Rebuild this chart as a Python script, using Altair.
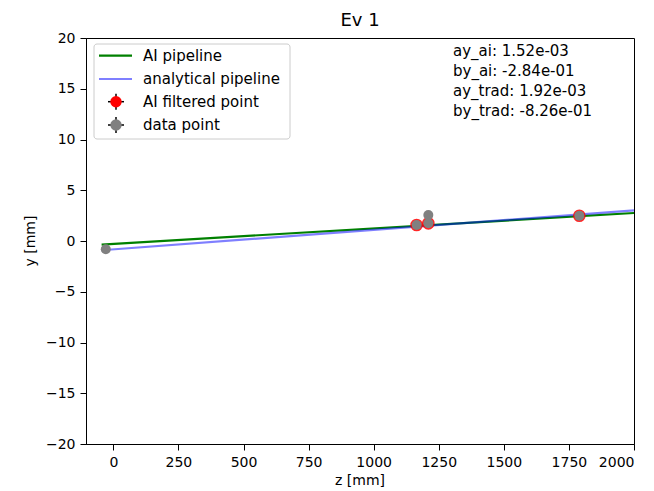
import altair as alt
import pandas as pd

# ---- data ----
line_z = [-45, 2000]
ai_line_y = [-0.35, 2.76]
trad_line_y = [-0.91, 3.01]

ai_pts_z = [1165, 1210, 1790]
ai_pts_y = [1.58, 1.74, 2.49]

data_pts_z = [-29, 1165, 1210, 1210, 1790]
data_pts_y = [-0.82, 1.58, 1.74, 2.56, 2.49]

legend_labels = ["AI pipeline", "analytical pipeline", "AI filtered point", "data point"]
annotations = ["ay_ai: 1.52e-03", "by_ai: -2.84e-01", "ay_trad: 1.92e-03", "by_trad: -8.26e-01"]
title_text = "Ev 1"
x_title = "z [mm]"
y_title = "y [mm]"
x_ticks = [0, 250, 500, 750, 1000, 1250, 1500, 1750, 2000]
y_ticks = [-20, -15, -10, -5, 0, 5, 10, 15, 20]
x_domain = [-105, 2000]
y_domain = [-20, 20]

FONT = "DejaVu Sans"
W, H = 548, 406

lines_df = pd.DataFrame({
    "z": line_z + line_z,
    "y": ai_line_y + trad_line_y,
    "series": [legend_labels[0]] * 2 + [legend_labels[1]] * 2,
})
ai_df = pd.DataFrame({"z": ai_pts_z, "y": ai_pts_y})
data_df = pd.DataFrame({"z": data_pts_z, "y": data_pts_y})
one = pd.DataFrame({"k": [0]})

x_enc = alt.X("z:Q", scale=alt.Scale(domain=x_domain, nice=False, zero=False),
              axis=alt.Axis(values=x_ticks, title=None, grid=False, format="d"))
y_enc = alt.Y("y:Q", scale=alt.Scale(domain=y_domain, nice=False, zero=False),
              axis=alt.Axis(values=y_ticks, title=None, grid=False, format="d"))

green_line = alt.Chart(lines_df).transform_filter(
    alt.datum.series == legend_labels[0]
).mark_line(color="#008000", strokeWidth=2.2, clip=True).encode(x=x_enc, y=y_enc)

blue_line = alt.Chart(lines_df).transform_filter(
    alt.datum.series == legend_labels[1]
).mark_line(color="#0000ff", opacity=0.5, strokeWidth=2.2, clip=True).encode(x=x_enc, y=y_enc)

red_pts = alt.Chart(ai_df).mark_point(
    filled=True, shape="circle", size=160, color="#ff0000", opacity=0.85
).encode(x=x_enc, y=y_enc)

gray_pts = alt.Chart(data_df).mark_point(
    filled=True, shape="circle", size=100, color="#808080", opacity=1
).encode(x=x_enc, y=y_enc)

layers = [green_line, blue_line, red_pts, gray_pts]

# ---- title and axis titles ----
layers.append(alt.Chart(one).mark_text(
    text=title_text, font=FONT, fontSize=18, align="center", baseline="alphabetic", color="black"
).encode(x=alt.value(W / 2), y=alt.value(-12)))
layers.append(alt.Chart(one).mark_text(
    text=x_title, font=FONT, fontSize=14, align="center", baseline="alphabetic", color="black"
).encode(x=alt.value(W / 2), y=alt.value(447)))
layers.append(alt.Chart(one).mark_text(
    text=y_title, font=FONT, fontSize=14, align="center", baseline="middle", angle=270, color="black"
).encode(x=alt.value(-55), y=alt.value(H / 2)))

# ---- annotation text ----
for i, t in enumerate(annotations):
    layers.append(alt.Chart(one).mark_text(
        text=t, font=FONT, fontSize=15, align="left", baseline="alphabetic", color="black"
    ).encode(x=alt.value(367), y=alt.value(17.7 + 20 * i)))

# ---- legend ----
layers.append(alt.Chart(one).mark_rect(
    fill="white", fillOpacity=0.8, stroke="#cccccc", strokeWidth=1, cornerRadius=3
).encode(x=alt.value(8), x2=alt.value(204), y=alt.value(6), y2=alt.value(101)))

entry_y = [17.7, 41, 63.7, 87]
layers.append(alt.Chart(one).mark_rule(color="#008000", strokeWidth=2.2).encode(
    x=alt.value(13), x2=alt.value(46), y=alt.value(entry_y[0])))
layers.append(alt.Chart(one).mark_rule(color="#0000ff", opacity=0.5, strokeWidth=2.2).encode(
    x=alt.value(13), x2=alt.value(46), y=alt.value(entry_y[1])))
for j, col in [(2, "#ff0000"), (3, "#808080")]:
    ey = entry_y[j]
    layers.append(alt.Chart(one).mark_rule(color="black", strokeWidth=1.5).encode(
        x=alt.value(22), x2=alt.value(38), y=alt.value(ey)))
    layers.append(alt.Chart(one).mark_rule(color="black", strokeWidth=1.5).encode(
        x=alt.value(30), y=alt.value(ey - 8), y2=alt.value(ey + 8)))
    layers.append(alt.Chart(one).mark_point(
        filled=True, shape="circle", size=130, color=col, opacity=1
    ).encode(x=alt.value(30), y=alt.value(ey)))
for i, lab in enumerate(legend_labels):
    layers.append(alt.Chart(one).mark_text(
        text=lab, font=FONT, fontSize=15, align="left", baseline="middle", color="black"
    ).encode(x=alt.value(57), y=alt.value(entry_y[i])))

chart = alt.layer(*layers).properties(
    width=W, height=H,
    autosize=alt.AutoSizeParams(type="none"),
    padding={"left": 86, "top": 38, "right": 20, "bottom": 47},
    background="white",
).configure_view(
    stroke="black", strokeWidth=1
).configure_axis(
    labelFont=FONT, labelFontSize=14, labelColor="black",
    tickColor="black", tickSize=6, tickWidth=1,
    domainColor="black", domainWidth=1, labelPadding=5,
)

chart.save("out.html", embed_options={"renderer": "svg", "actions": False})
